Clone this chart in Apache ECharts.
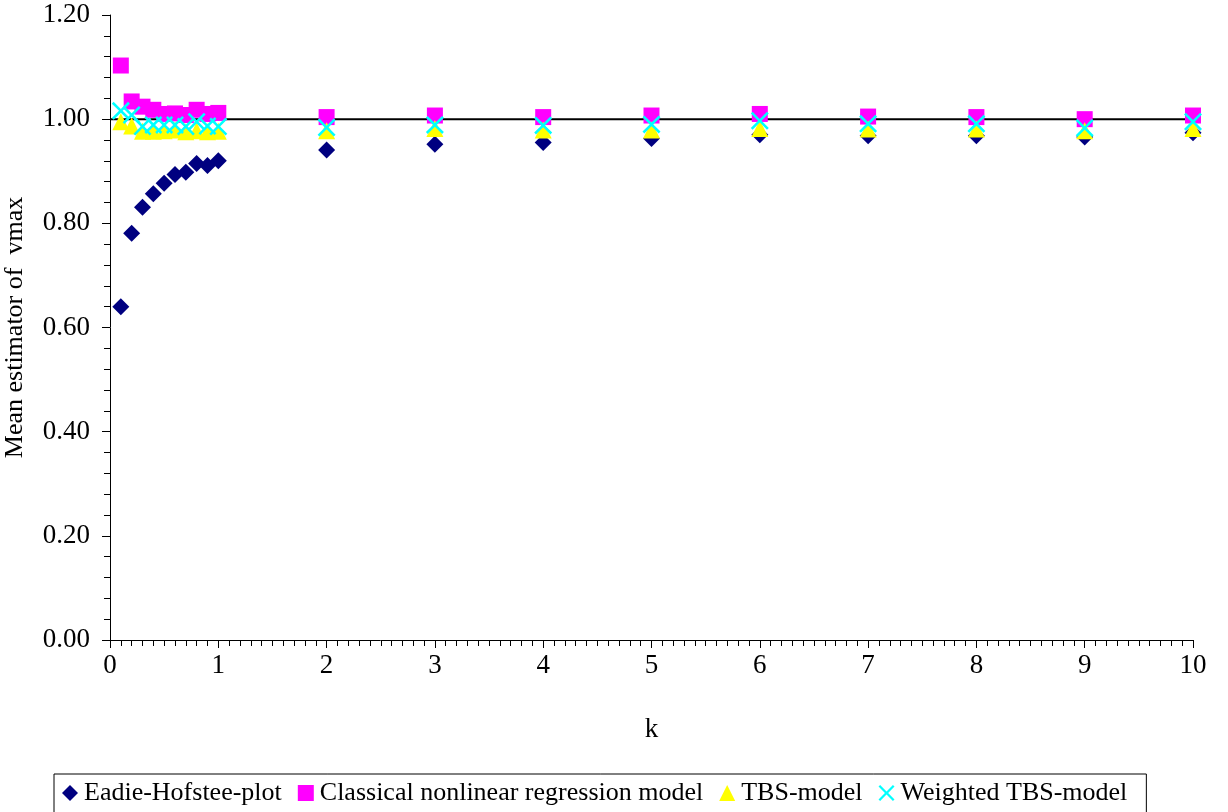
<!DOCTYPE html>
<html>
<head>
<meta charset="utf-8">
<script src="https://cdn.jsdelivr.net/npm/echarts@6/dist/echarts.min.js"></script>
<style>html,body{margin:0;padding:0;background:#fff}#c{width:1228px;height:812px}</style>
</head>
<body>
<div id="c"></div>
<script>
const kValues = [0.1,0.2,0.3,0.4,0.5,0.6,0.7,0.8,0.9,1,2,3,4,5,6,7,8,9,10];
const eadieHofstee = [0.640,0.781,0.831,0.857,0.877,0.894,0.898,0.915,0.911,0.920,0.941,0.952,0.955,0.963,0.970,0.968,0.968,0.966,0.974];
const classical = [1.103,1.034,1.024,1.018,1.010,1.011,1.008,1.018,1.010,1.012,1.004,1.007,1.004,1.007,1.010,1.005,1.004,1.000,1.007];
const tbs = [0.995,0.987,0.977,0.977,0.978,0.979,0.976,0.978,0.976,0.977,0.978,0.982,0.979,0.979,0.982,0.981,0.981,0.978,0.982];
const weightedTbs = [1.016,1.008,0.986,0.989,0.989,0.989,0.986,0.995,0.987,0.986,0.984,0.989,0.988,0.990,0.997,0.991,0.991,0.983,0.995];
const seriesNames = ['Eadie-Hofstee-plot','Classical nonlinear regression model','TBS-model','Weighted TBS-model'];
const referenceX = [0, 10.33];
const referenceY = [1.0, 1.0];

const crossPath = 'path://M0,2 L2,0 L10,8 L18,0 L20,2 L12,10 L20,18 L18,20 L10,12 L2,20 L0,18 L8,10 Z';
const pair = arr => kValues.map((k,i)=>[k,arr[i]]);
const font = '"Liberation Serif", "Times New Roman", serif';
const FS = 27;

const chart = echarts.init(document.getElementById('c'), null, {renderer:'canvas'});
chart.setOption({
  animation:false,
  backgroundColor:'#fff',
  textStyle:{fontFamily:font,color:'#000'},
  grid:{left:110,right:35,top:15,bottom:172,containLabel:false,outerBoundsMode:'none'},
  xAxis:{
    type:'value',min:0,max:10,interval:1,
    name:'k',nameLocation:'middle',nameGap:76,
    nameTextStyle:{fontFamily:font,fontSize:FS,color:'#000'},
    axisLine:{lineStyle:{color:'#000',width:1}},
    axisTick:{show:true,length:8,lineStyle:{color:'#000'}},
    minorTick:{show:true,splitNumber:10,length:6,lineStyle:{color:'#000'}},
    axisLabel:{fontFamily:font,fontSize:FS,color:'#000',margin:12},
    splitLine:{show:false}
  },
  yAxis:{
    type:'value',min:0,max:1.2,interval:0.2,
    name:'Mean estimator of  vmax',nameLocation:'middle',nameGap:82,
    nameTextStyle:{fontFamily:font,fontSize:26,color:'#000'},
    axisLine:{show:true,lineStyle:{color:'#000',width:1}},
    axisTick:{show:true,length:8,lineStyle:{color:'#000'}},
    minorTick:{show:true,splitNumber:5,length:6,lineStyle:{color:'#000'}},
    axisLabel:{fontFamily:font,fontSize:FS,color:'#000',margin:20,formatter:v=>v.toFixed(2)},
    splitLine:{show:false}
  },
  legend:{
    bottom:-6,left:54,
    data:[
      {name:seriesNames[0],icon:'diamond'},
      {name:seriesNames[1],icon:'rect'},
      {name:seriesNames[2],icon:'triangle'},
      {name:seriesNames[3],icon:crossPath}
    ],
    itemWidth:16,itemHeight:16,itemGap:16,
    borderColor:'#000',borderWidth:1,borderRadius:0,
    padding:[6,19,12,8],
    textStyle:{fontFamily:font,fontSize:26,color:'#000',padding:[0,0,0,1]}
  },
  series:[
    {name:'ref',type:'line',data:referenceX.map((x,i)=>[x,referenceY[i]]),symbol:'none',clip:false,silent:true,
     lineStyle:{color:'#000',width:2},z:1,legendHoverLink:false},
    {name:seriesNames[0],type:'scatter',symbol:'diamond',symbolSize:17,itemStyle:{color:'#000080',opacity:1},data:pair(eadieHofstee),z:2},
    {name:seriesNames[1],type:'scatter',symbol:'rect',symbolSize:16,itemStyle:{color:'#ff00ff',opacity:1},data:pair(classical),z:2},
    {name:seriesNames[2],type:'scatter',symbol:'triangle',symbolSize:17,itemStyle:{color:'#ffff00',opacity:1},data:pair(tbs),z:2},
    {name:seriesNames[3],type:'scatter',symbol:crossPath,symbolSize:18,itemStyle:{color:'#00ffff',opacity:1},data:pair(weightedTbs),z:2}
  ]
});
</script>
</body>
</html>
